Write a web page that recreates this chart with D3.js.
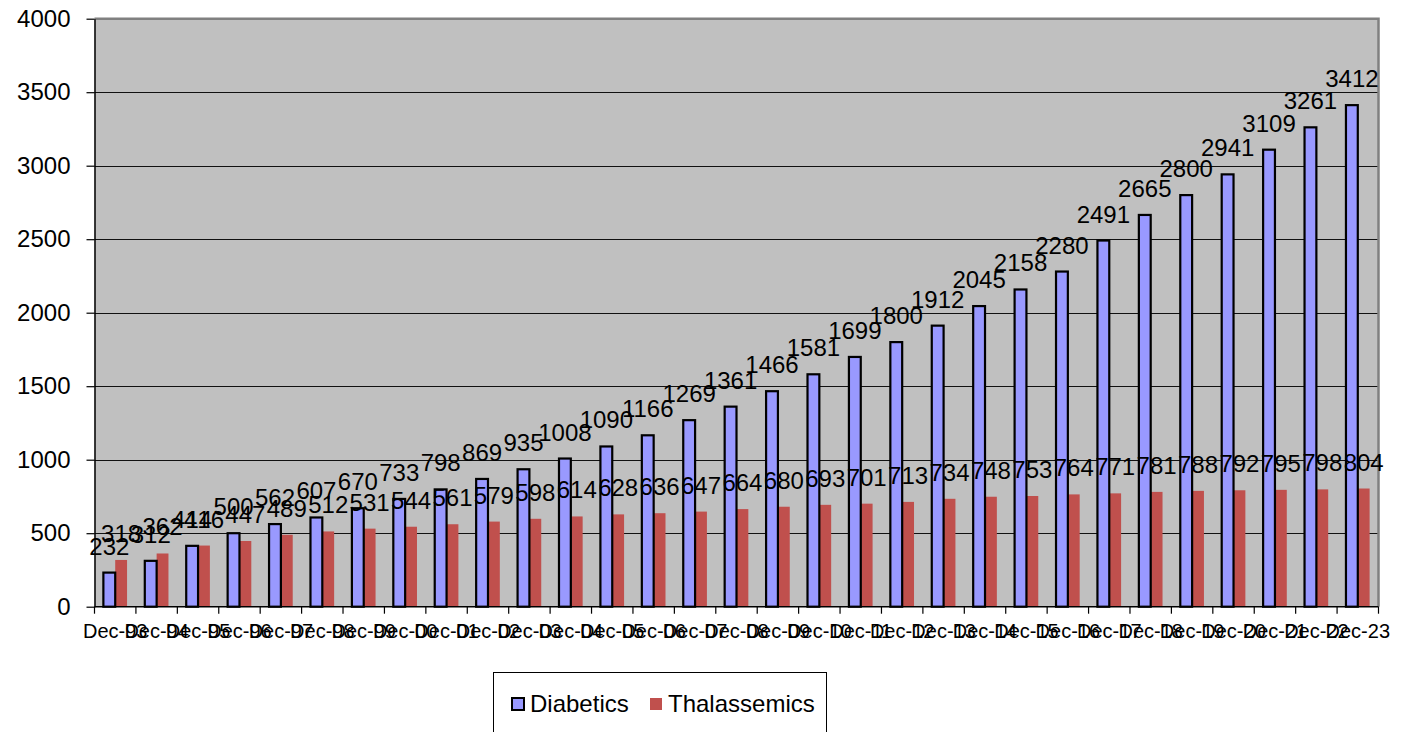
<!DOCTYPE html>
<html>
<head>
<meta charset="utf-8">
<script src="https://cdn.jsdelivr.net/npm/d3@7"></script>
<style>
  html, body { margin: 0; padding: 0; background: #fff; }
  svg { display: block; font-family: Arial, "Liberation Sans", sans-serif; }
</style>
</head>
<body>
<svg id="chart" width="1405" height="732"></svg>
<script>
// Year-end registrations
const categories = ["Dec-93","Dec-94","Dec-95","Dec-96","Dec-97","Dec-98","Dec-99","Dec-00","Dec-01","Dec-02",
  "Dec-03","Dec-04","Dec-05","Dec-06","Dec-07","Dec-08","Dec-09","Dec-10","Dec-11","Dec-12",
  "Dec-13","Dec-14","Dec-15","Dec-16","Dec-17","Dec-18","Dec-19","Dec-20","Dec-21","Dec-22","Dec-23"];
const diabetics = [232,312,414,500,562,607,670,733,798,869,935,1008,1090,1166,1269,1361,1466,1581,1699,1800,
  1912,2045,2158,2280,2491,2665,2800,2941,3109,3261,3412];
const thalassemics = [318,362,416,447,489,512,531,544,561,579,598,614,628,636,647,664,680,693,701,713,
  734,748,753,764,771,781,788,792,795,798,804];
const seriesNames = ["Diabetics","Thalassemics"];
const yTicks = [0,500,1000,1500,2000,2500,3000,3500,4000];

const colors = { Diabetics: "#9999FF", Thalassemics: "#C0504D" };

const svg = d3.select("#chart");
const plot = { left: 94.5, right: 1378.5, top: 18.7, bottom: 606.7 };

const x = d3.scaleBand().domain(categories).range([plot.left, plot.right]).paddingInner(0).paddingOuter(0);
const xs = d3.scaleBand().domain(seriesNames).range([0, x.bandwidth()]).paddingInner(0).paddingOuter(0.75);
const y = d3.scaleLinear().domain([0, 4000]).range([plot.bottom, plot.top]);

// plot area background
svg.append("rect")
  .attr("x", plot.left).attr("y", plot.top)
  .attr("width", plot.right - plot.left).attr("height", plot.bottom - plot.top)
  .attr("fill", "#C0C0C0");

// horizontal gridlines
svg.append("g").selectAll("line")
  .data(yTicks.filter(v => v > 0 && v < 4000))
  .join("line")
  .attr("x1", plot.left).attr("x2", plot.right)
  .attr("y1", d => Math.round(y(d)) + 0.5).attr("y2", d => Math.round(y(d)) + 0.5)
  .attr("stroke", "#111").attr("stroke-width", 1);

// plot area frame (top and right)
svg.append("path")
  .attr("d", `M${plot.left},${plot.top}H${plot.right}V${plot.bottom}`)
  .attr("fill", "none").attr("stroke", "#808080").attr("stroke-width", 2.5);

const rows = categories.map((c, i) => ({ cat: c, Diabetics: diabetics[i], Thalassemics: thalassemics[i] }));

// bars
const groups = svg.append("g").selectAll("g")
  .data(rows).join("g")
  .attr("transform", d => `translate(${x(d.cat)},0)`);

groups.append("rect")
  .attr("x", xs("Thalassemics")).attr("width", xs.bandwidth())
  .attr("y", d => y(d.Thalassemics)).attr("height", d => y(0) - y(d.Thalassemics))
  .attr("fill", colors.Thalassemics);

groups.append("rect")
  .attr("x", xs("Diabetics")).attr("width", xs.bandwidth())
  .attr("y", d => y(d.Diabetics)).attr("height", d => y(0) - y(d.Diabetics))
  .attr("fill", colors.Diabetics).attr("stroke", "#000").attr("stroke-width", 2.2);

// y axis
const yAxis = svg.append("g")
  .attr("transform", `translate(${plot.left},0)`)
  .call(d3.axisLeft(y).tickValues(yTicks).tickFormat(d3.format("d"))
    .tickSize(8).tickPadding(16).tickSizeOuter(0));
yAxis.select(".domain").attr("stroke", "#000").attr("stroke-width", 1.5);
yAxis.selectAll(".tick line").attr("stroke", "#000").attr("stroke-width", 1.2);
yAxis.selectAll("text").attr("font-size", 24).attr("fill", "#000")
  .attr("font-family", "Arial, 'Liberation Sans', sans-serif");

// x axis line and category boundary ticks
const xAxis = svg.append("g");
xAxis.append("line")
  .attr("x1", plot.left).attr("x2", plot.right)
  .attr("y1", plot.bottom).attr("y2", plot.bottom)
  .attr("stroke", "#000").attr("stroke-width", 1.5);
xAxis.selectAll("line.tk")
  .data(categories.concat([null]))
  .join("line").attr("class", "tk")
  .attr("x1", d => d === null ? plot.right : x(d)).attr("x2", d => d === null ? plot.right : x(d))
  .attr("y1", plot.bottom).attr("y2", plot.bottom + 7)
  .attr("stroke", "#000").attr("stroke-width", 1.2);
xAxis.selectAll("text")
  .data(categories).join("text")
  .attr("x", d => x(d) + x.bandwidth() / 2)
  .attr("y", 638)
  .attr("text-anchor", "middle")
  .attr("font-size", 20)
  .attr("fill", "#000")
  .text(d => d);

// value labels
const labelOffset = 18;
groups.append("text")
  .attr("x", xs("Diabetics") + xs.bandwidth() / 2)
  .attr("y", d => y(d.Diabetics) - labelOffset)
  .attr("text-anchor", "middle").attr("font-size", 24).attr("fill", "#000")
  .text(d => d.Diabetics);
groups.append("text")
  .attr("x", xs("Thalassemics") + xs.bandwidth() / 2)
  .attr("y", d => y(d.Thalassemics) - labelOffset)
  .attr("text-anchor", "middle").attr("font-size", 24).attr("fill", "#000")
  .text(d => d.Thalassemics);

// legend
const legend = svg.append("g");
legend.append("rect")
  .attr("x", 493.5).attr("y", 672.5).attr("width", 333).attr("height", 80)
  .attr("fill", "#fff").attr("stroke", "#000").attr("stroke-width", 1);
const legendItems = [
  { name: "Diabetics", sx: 512, tx: 530 },
  { name: "Thalassemics", sx: 650, tx: 668 }
];
legendItems.forEach(it => {
  legend.append("rect")
    .attr("x", it.sx).attr("y", 698).attr("width", 12).attr("height", 12)
    .attr("fill", colors[it.name])
    .attr("stroke", it.name === "Diabetics" ? "#000" : "none")
    .attr("stroke-width", it.name === "Diabetics" ? 2 : 0);
  legend.append("text")
    .attr("x", it.tx).attr("y", 712)
    .attr("font-size", 24).attr("fill", "#000")
    .text(it.name);
});
</script>
</body>
</html>
